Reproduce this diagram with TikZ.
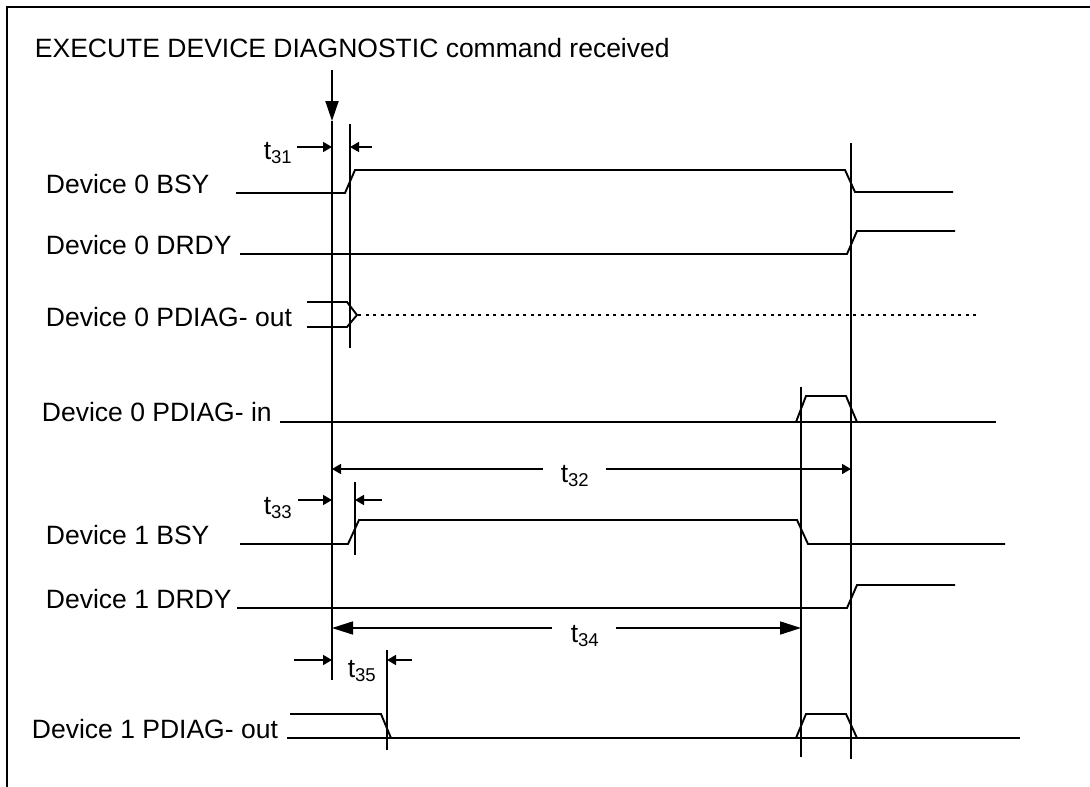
\documentclass[tikz,border=0pt]{standalone}
\usepackage{fontspec}
\setmainfont{Liberation Sans}
\usetikzlibrary{arrows.meta}
\tikzset{dim/.style = {-{Triangle[length=9pt,width=10pt]},line width=1.6pt},
         bigdim/.style = {-{Triangle[length=21pt,width=13pt]},line width=1.6pt}}

\begin{document}
\begin{tikzpicture}[x=1pt,y=-1pt,line width=1.9pt,
    sig label/.style={anchor=base west,inner sep=0pt,font=\fontsize{26.5}{31}\selectfont},
    t label/.style={inner sep=0pt,font=\fontsize{26.5}{31}\selectfont}]
    \useasboundingbox (0,0) rectangle (1090,787);

    % frame
    \draw[line width=2.4pt] (7,787) -- (7,7) -- (1090,7);

    % texts
    \node[sig label] (title) at (34,57) {EXECUTE DEVICE DIAGNOSTIC command received};
    \node[sig label] (bsy0) at (45,193) {Device 0 BSY};
    \node[sig label] (drdy0) at (45,254) {Device 0 DRDY};
    \node[sig label] (pdo0) at (45,326) {Device 0 PDIAG- out};
    \node[sig label] (pdi0) at (41,421) {Device 0 PDIAG- in};
    \node[sig label] (bsy1) at (45,544) {Device 1 BSY};
    \node[sig label] (drdy1) at (45,608) {Device 1 DRDY};
    \node[sig label] (pdo1) at (31,738) {Device 1 PDIAG- out};

    % marker lines
    \coordinate (cmd) at (332,121);
    \coordinate (m31) at (350,124);
    \coordinate (m33) at (355,482);
    \coordinate (m35) at (387,650);
    \coordinate (m34) at (801,387);
    \coordinate (m32) at (851,143);
    \draw[-{Triangle[length=20pt,width=13pt]}] (332,70) -- (cmd);
    \draw (cmd) -- (332,680);
    \draw (m31) -- (350,348);
    \draw (m33) -- (355,555);
    \draw (m35) -- (387,750);
    \draw (m34) -- (801,757);
    \draw (m32) -- (851,759);

    % waveforms
    \draw (236,193) -- (345,193) -- (355,170) -- (845,170) -- (855,192) -- (953,192);
    \draw (240,254) -- (847,254) -- (857,231) -- (955,231);
    \draw (307,302) -- (347,302) -- (357,315) -- (347,327) -- (307,327);
    \draw[line width=1.5pt,dash pattern=on 3pt off 4.5pt] (358,315) -- (980,315);
    \draw (280,422) -- (996,422);
    \draw (796,422) -- (806,396) -- (846,396) -- (857,422);
    \draw (240,544) -- (348,544) -- (359,520) -- (797,520) -- (808,544) -- (1005,544);
    \draw (237,608) -- (847,608) -- (857,585) -- (955,585);
    \draw (290,714) -- (381,714) -- (391,738);
    \draw (287,738) -- (1020,738);
    \draw (796,738) -- (806,714) -- (846,714) -- (857,738);

    % timings
    \node[t label] (t31) at (278,153) {t\textsubscript{31}};
    \draw[dim] (297,147) -- (cmd |- 0,147);
    \draw[dim] (372,147) -- (m31 |- 0,147);
    \node[t label] (t32) at (575,476) {t\textsubscript{32}};
    \draw[dim] (543,469) -- (cmd |- 0,469);
    \draw[dim] (606,469) -- (m32 |- 0,469);
    \node[t label] (t33) at (278,508) {t\textsubscript{33}};
    \draw[dim] (298,500) -- (cmd |- 0,500);
    \draw[dim] (382,500) -- (m33 |- 0,500);
    \node[t label] (t34) at (585,636) {t\textsubscript{34}};
    \draw[bigdim] (552,628) -- (cmd |- 0,628);
    \draw[bigdim] (616,628) -- (m34 |- 0,628);
    \node[t label] (t35) at (362,671) {t\textsubscript{35}};
    \draw[dim] (294,660) -- (cmd |- 0,660);
    \draw[dim] (412,660) -- (m35 |- 0,660);
\end{tikzpicture}
\end{document}
